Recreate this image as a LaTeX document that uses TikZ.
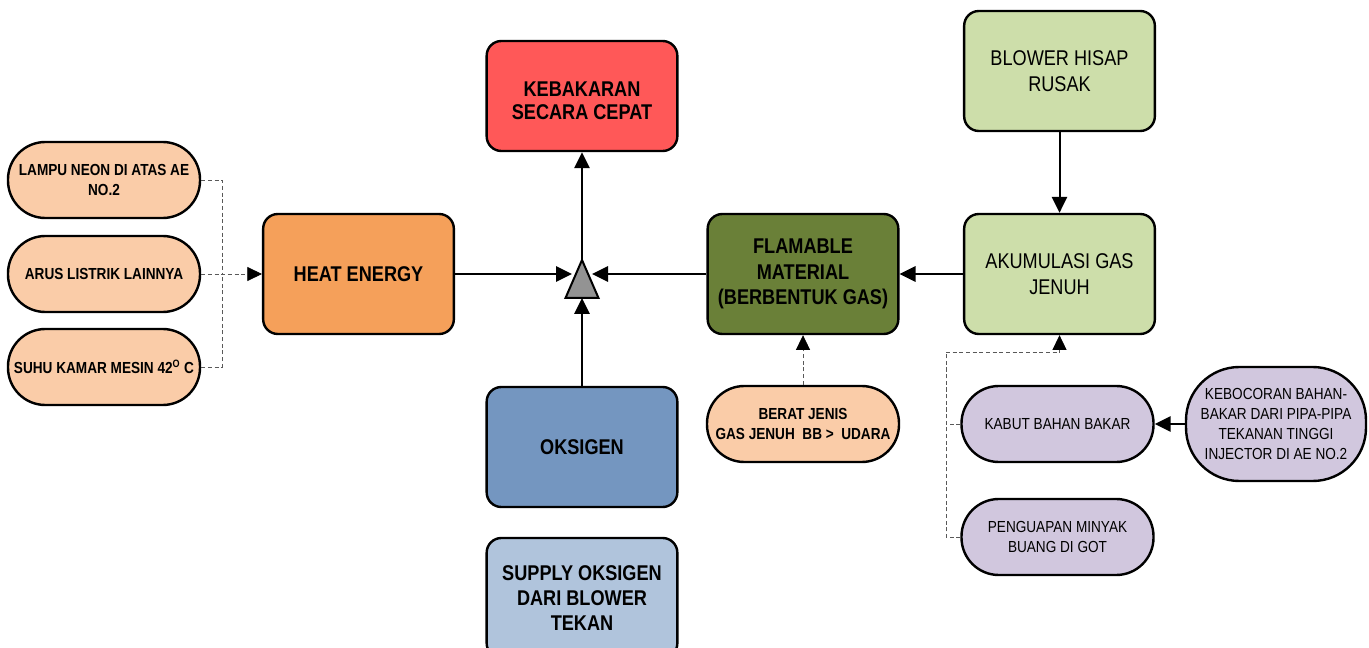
\documentclass[tikz,border=0pt]{standalone}
\usepackage{fontspec}
\setmainfont{Liberation Sans}[FakeStretch=0.85]
\usetikzlibrary{arrows.meta}

\definecolor{fire}{RGB}{255,88,88}
\definecolor{heat}{RGB}{245,160,90}
\definecolor{peach}{RGB}{250,204,168}
\definecolor{fuel}{RGB}{106,128,56}
\definecolor{leaf}{RGB}{205,222,170}
\definecolor{oxy}{RGB}{116,150,192}
\definecolor{sky}{RGB}{176,196,220}
\definecolor{lilac}{RGB}{209,199,222}

\begin{document}
\begin{tikzpicture}[x=0.75pt, y=-0.75pt,
    box/.style={draw, line width=1.8pt, rounded corners=11pt, minimum width=143pt, minimum height=90pt, align=center, inner sep=2pt},
    pill/.style={draw, line width=1.8pt, rounded corners=28pt, minimum width=144pt, minimum height=57pt, align=center, inner sep=2pt},
    big/.style={font=\fontsize{16}{19}\selectfont},
    bigb/.style={font=\fontsize{16}{19}\selectfont\bfseries},
    small/.style={font=\fontsize{12}{15}\selectfont},
    smallb/.style={font=\fontsize{12}{15}\selectfont\bfseries},
    link/.style={line width=1.5pt, -{Triangle[length=12pt, width=11.5pt]}},
    dashlink/.style={draw=gray!70!black, line width=0.6pt, dash pattern=on 3pt off 2pt},
    tip/.style={-{Triangle[length=11pt, width=10.5pt, black]}}]
    \useasboundingbox (0, 0) rectangle (1369, 648);

    % Causes of heat
    \node[pill, smallb, fill=peach] (lampu) at (104, 180) {LAMPU NEON DI ATAS AE\\NO.2};
    \node[pill, smallb, fill=peach] (arus) at (104, 274) {ARUS LISTRIK LAINNYA};
    \node[pill, smallb, fill=peach] (suhu) at (104, 367) {SUHU KAMAR MESIN 42\textsuperscript{O} C};

    % Main boxes
    \node[box, bigb, fill=heat] (heat) at (358.5, 274) {HEAT ENERGY};
    \node[box, fill=fire, minimum height=82.5pt, font=\fontsize{16}{17.6}\selectfont\bfseries] (keb) at (582, 96) {\rule{0pt}{18pt}KEBAKARAN\\SECARA CEPAT};
    \node[box, bigb, fill=fuel] (flam) at (803, 274) {FLAMABLE\\MATERIAL\\(BERBENTUK GAS)};
    \node[box, bigb, fill=oxy] (oks) at (582, 447) {OKSIGEN};
    \node[box, bigb, fill=sky] (supply) at (582, 598) {SUPPLY OKSIGEN\\DARI BLOWER\\TEKAN};
    \node[box, big, fill=leaf] (blower) at (1059.5, 71) {BLOWER HISAP\\RUSAK};
    \node[box, big, fill=leaf] (akum) at (1059.5, 274) {AKUMULASI GAS\\JENUH};

    % Fuel side
    \node[pill, smallb, fill=peach] (berat) at (803, 424) {BERAT JENIS\\GAS JENUH\ \ BB >\ \ UDARA};
    \node[pill, small, fill=lilac] (kabut) at (1057.5, 424) {KABUT BAHAN BAKAR};
    \node[pill, small, fill=lilac] (uap) at (1057.5, 537) {PENGUAPAN MINYAK\\BUANG DI GOT};
    \node[pill, small, fill=lilac, minimum width=135pt, minimum height=85.5pt, rounded corners=40pt] (bocor) at (1276, 424) {KEBOCORAN BAHAN-\\BAKAR DARI PIPA-PIPA\\TEKANAN TINGGI\\INJECTOR DI AE NO.2};

    % Triangle
    \filldraw[fill=gray!85, line width=1.5pt] (565.5, 298) -- (582, 260) -- (598.5, 298) -- cycle;
    \coordinate (tri-l) at (572, 274);
    \coordinate (tri-r) at (592, 274);
    \coordinate (tri-b) at (582, 298);
    \coordinate (tri-t) at (582, 260);

    \draw[link] (heat) -- (tri-l);
    \draw[link] (flam) -- (tri-r);
    \draw[link] (oks) -- (tri-b);
    \draw[link] (tri-t) -- (keb);
    \draw[link] (akum) -- (flam);
    \draw[link] (blower) -- (akum);
    \draw[link] (bocor) -- (kabut);

    % Dashed feeds
    \coordinate (hj) at (222, 274);
    \draw[dashlink] (lampu.east) -| (hj);
    \draw[dashlink] (suhu.east) -| (hj);
    \draw[dashlink, tip] (arus.east) -- (heat.west);
    \draw[dashlink, tip] (berat.north) -- (flam.south);
    \coordinate (kj) at (946, 352);
    \draw[dashlink] (kabut.west) -| (kj);
    \draw[dashlink] (uap.west) -| (kj);
    \draw[dashlink, tip] (kj) -| (akum.south);
  \end{tikzpicture}
\end{document}
